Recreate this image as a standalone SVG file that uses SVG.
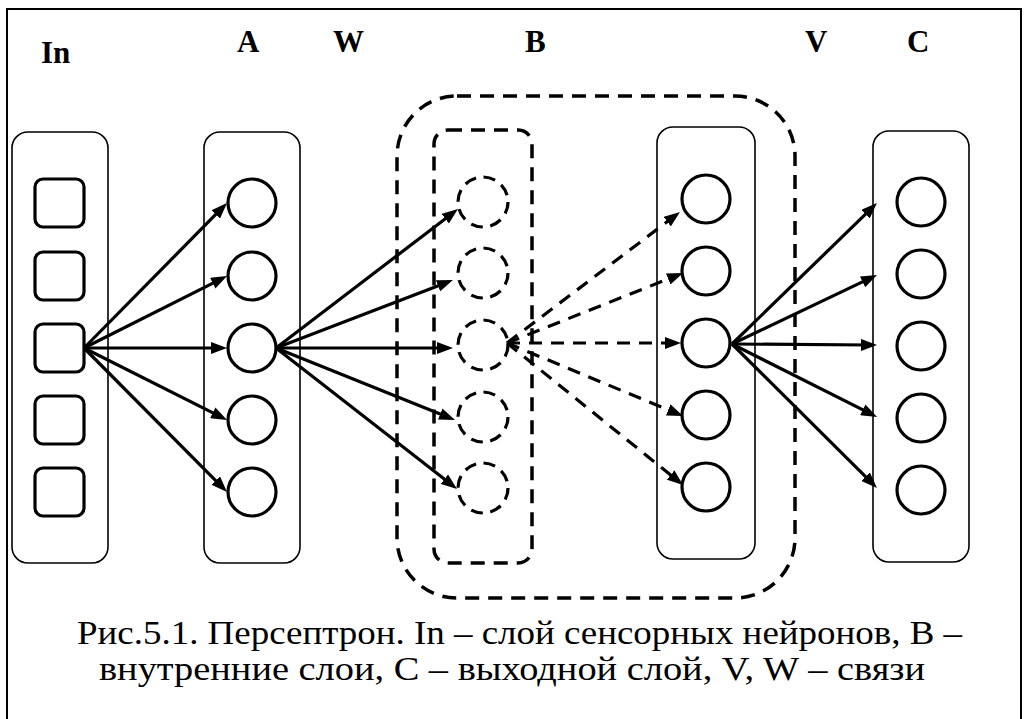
<svg xmlns="http://www.w3.org/2000/svg" width="1029" height="719" viewBox="0 0 1029 719">
<style>
.lbl{font-family:"Liberation Serif","Times New Roman",serif;font-weight:bold;font-size:31px;fill:#000}
.cap{font-family:"Liberation Serif","Times New Roman",serif;font-size:34px;fill:#000}
.cont{fill:none;stroke:#000;stroke-width:1.6}
.dcont{fill:none;stroke:#000;stroke-width:3.5;stroke-dasharray:14 9}
.unit{fill:#fff;stroke:#000;stroke-width:3.2}
.dunit{fill:none;stroke:#000;stroke-width:3.2;stroke-dasharray:12 7.6}
.ln{stroke:#000;stroke-width:3.2;fill:none}
.dln{stroke:#000;stroke-width:3.2;fill:none;stroke-dasharray:13 9}
</style>
<defs>
<marker id="ah" markerUnits="userSpaceOnUse" viewBox="0 0 16 12" markerWidth="16" markerHeight="12" refX="8" refY="6" orient="auto">
<path d="M0,0 L16,6 L0,12 z" fill="#000"/>
</marker>
</defs>
<rect x="7" y="9" width="1014" height="730" fill="#fff" stroke="#000" stroke-width="2"/>
<g id="labels">
<text class="lbl" x="41" y="63">In</text>
<text class="lbl" x="237" y="52">A</text>
<text class="lbl" x="333" y="52">W</text>
<text class="lbl" x="525" y="52">B</text>
<text class="lbl" x="805" y="52">V</text>
<text class="lbl" x="907" y="52">C</text>
</g>
<g id="hidden-group">
<rect class="dcont" x="397" y="96" width="398" height="502" rx="60" ry="60"/>
</g>
<g id="layer-In">
<rect class="cont" x="12" y="132" width="96" height="431" rx="16"/>
<rect class="unit" x="35" y="179" width="49" height="48" rx="8"/>
<rect class="unit" x="35" y="252" width="49" height="48" rx="8"/>
<rect class="unit" x="35" y="324" width="49" height="48" rx="8"/>
<rect class="unit" x="35" y="396" width="49" height="48" rx="8"/>
<rect class="unit" x="35" y="468" width="49" height="48" rx="8"/>
</g>
<g id="layer-A">
<rect class="cont" x="204" y="132" width="96" height="431" rx="16"/>
<circle class="unit" cx="252" cy="203" r="24"/>
<circle class="unit" cx="252" cy="276" r="24"/>
<circle class="unit" cx="252" cy="348" r="24"/>
<circle class="unit" cx="252" cy="420" r="24"/>
<circle class="unit" cx="252" cy="492" r="24"/>
</g>
<g id="layer-hidden">
<rect class="dcont" x="434" y="130" width="98" height="433" rx="14"/>
<circle class="dunit" cx="483" cy="202" r="25"/>
<circle class="dunit" cx="483" cy="273" r="25"/>
<circle class="dunit" cx="483" cy="345" r="25"/>
<circle class="dunit" cx="483" cy="417" r="25"/>
<circle class="dunit" cx="483" cy="488" r="25"/>
</g>
<g id="layer-B">
<rect class="cont" x="657" y="127" width="98" height="432" rx="16"/>
<circle class="unit" cx="706" cy="199" r="24"/>
<circle class="unit" cx="706" cy="271" r="24"/>
<circle class="unit" cx="706" cy="343" r="24"/>
<circle class="unit" cx="706" cy="415" r="24"/>
<circle class="unit" cx="706" cy="487" r="24"/>
</g>
<g id="layer-C">
<rect class="cont" x="873" y="131" width="96" height="431" rx="16"/>
<circle class="unit" cx="921" cy="202" r="24"/>
<circle class="unit" cx="921" cy="274" r="24"/>
<circle class="unit" cx="921" cy="346" r="24"/>
<circle class="unit" cx="921" cy="418" r="24"/>
<circle class="unit" cx="921" cy="490" r="24"/>
</g>
<g id="connectors">
<line class="ln" x1="84" y1="348" x2="221.4" y2="208.7" marker-end="url(#ah)"/>
<line class="ln" x1="84" y1="348" x2="219.9" y2="279.6" marker-end="url(#ah)"/>
<line class="ln" x1="84" y1="348" x2="219" y2="348" marker-end="url(#ah)"/>
<line class="ln" x1="84" y1="348" x2="219.9" y2="416.4" marker-end="url(#ah)"/>
<line class="ln" x1="84" y1="348" x2="221.4" y2="486.3" marker-end="url(#ah)"/>
<line class="ln" x1="276" y1="348" x2="451.6" y2="213.9" marker-end="url(#ah)"/>
<line class="ln" x1="276" y1="348" x2="445.5" y2="282.9" marker-end="url(#ah)"/>
<line class="ln" x1="276" y1="348" x2="445" y2="348" marker-end="url(#ah)"/>
<line class="ln" x1="276" y1="348" x2="447.6" y2="417" marker-end="url(#ah)"/>
<line class="ln" x1="276" y1="348" x2="450.7" y2="484.1" marker-end="url(#ah)"/>
<line class="dln" x1="507" y1="343" x2="673.6" y2="216.8" marker-end="url(#ah)"/>
<line class="dln" x1="507" y1="343" x2="675.6" y2="276" marker-end="url(#ah)"/>
<line class="dln" x1="507" y1="343" x2="673" y2="343" marker-end="url(#ah)"/>
<line class="dln" x1="507" y1="343" x2="675.6" y2="412.9" marker-end="url(#ah)"/>
<line class="dln" x1="507" y1="343" x2="676.8" y2="480" marker-end="url(#ah)"/>
<line class="ln" x1="732" y1="344" x2="871.2" y2="208.6" marker-end="url(#ah)"/>
<line class="ln" x1="732" y1="344" x2="869.8" y2="278.4" marker-end="url(#ah)"/>
<line class="ln" x1="732" y1="344" x2="869" y2="345" marker-end="url(#ah)"/>
<line class="ln" x1="732" y1="344" x2="869.9" y2="413.4" marker-end="url(#ah)"/>
<line class="ln" x1="732" y1="344" x2="871.3" y2="482.3" marker-end="url(#ah)"/>
</g>
<g id="caption">
<text class="cap" x="77" y="644" textLength="885" lengthAdjust="spacingAndGlyphs">Рис.5.1. Персептрон. In – слой сенсорных нейронов, В –</text>
<text class="cap" x="99" y="680" textLength="826" lengthAdjust="spacingAndGlyphs">внутренние слои, С – выходной слой, V, W – связи</text>
</g>
</svg>
